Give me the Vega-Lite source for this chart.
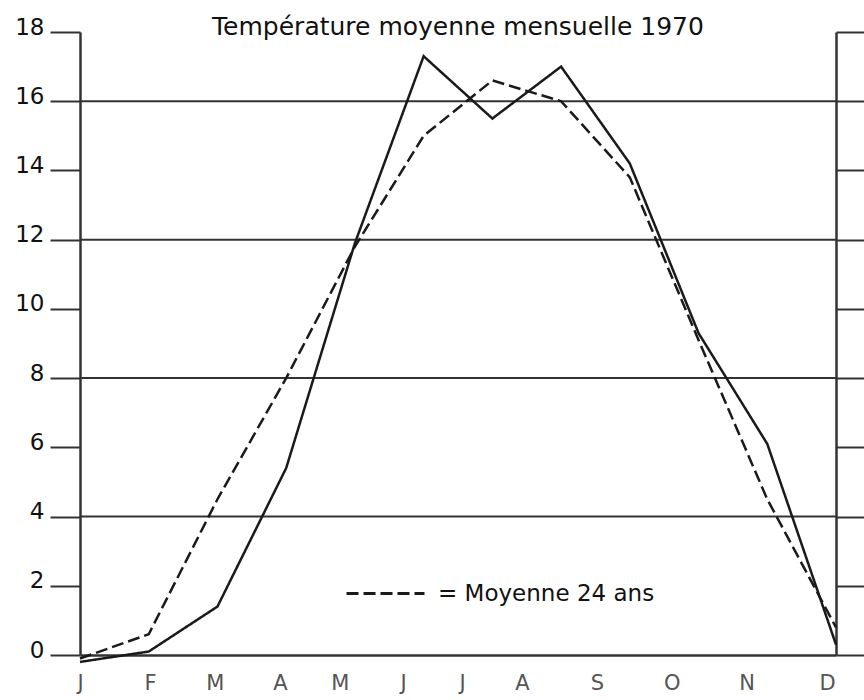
{
  "$schema": "https://vega.github.io/schema/vega-lite/v6.json",
  "width": 756,
  "height": 623,
  "autosize": {"type": "none"},
  "padding": {"left": 80, "top": 32, "right": 28, "bottom": 45},
  "background": "white",
  "config": {"view": {"stroke": null}, "font": "DejaVu Sans"},
  "title": {
    "text": "Température moyenne mensuelle 1970",
    "fontSize": 25,
    "fontWeight": "normal",
    "font": "DejaVu Sans",
    "color": "#111",
    "anchor": "middle",
    "frame": "group",
    "baseline": "alphabetic",
    "offset": -44
  },
  "layer": [
    {
      "data": {"values": [{"g": 4}, {"g": 8}, {"g": 12}, {"g": 16}]},
      "mark": {"type": "rule", "color": "#333", "strokeWidth": 2},
      "encoding": {
        "y": {
          "field": "g",
          "type": "quantitative",
          "scale": {"domain": [0, 18], "nice": false, "zero": false},
          "axis": {
            "orient": "right",
            "values": [0, 2, 4, 6, 8, 10, 12, 14, 16, 18],
            "tickSize": 28,
            "labels": false,
            "title": null,
            "grid": false,
            "domainColor": "#333",
            "domainWidth": 2.5,
            "tickColor": "#333",
            "tickWidth": 2
          }
        }
      }
    },
    {
      "data": {
        "values": [
          {"month": 1, "series": "1970", "temp": -0.2},
          {"month": 2, "series": "1970", "temp": 0.1},
          {"month": 3, "series": "1970", "temp": 1.4},
          {"month": 4, "series": "1970", "temp": 5.4},
          {"month": 5, "series": "1970", "temp": 11.9},
          {"month": 6, "series": "1970", "temp": 17.3},
          {"month": 7, "series": "1970", "temp": 15.5},
          {"month": 8, "series": "1970", "temp": 17.0},
          {"month": 9, "series": "1970", "temp": 14.2},
          {"month": 10, "series": "1970", "temp": 9.3},
          {"month": 11, "series": "1970", "temp": 6.1},
          {"month": 12, "series": "1970", "temp": 0.3},
          {"month": 1, "series": "Moyenne 24 ans", "temp": -0.1},
          {"month": 2, "series": "Moyenne 24 ans", "temp": 0.6},
          {"month": 3, "series": "Moyenne 24 ans", "temp": 4.5},
          {"month": 4, "series": "Moyenne 24 ans", "temp": 8.0},
          {"month": 5, "series": "Moyenne 24 ans", "temp": 11.8},
          {"month": 6, "series": "Moyenne 24 ans", "temp": 15.0},
          {"month": 7, "series": "Moyenne 24 ans", "temp": 16.6},
          {"month": 8, "series": "Moyenne 24 ans", "temp": 16.0},
          {"month": 9, "series": "Moyenne 24 ans", "temp": 13.8},
          {"month": 10, "series": "Moyenne 24 ans", "temp": 9.1},
          {"month": 11, "series": "Moyenne 24 ans", "temp": 4.5},
          {"month": 12, "series": "Moyenne 24 ans", "temp": 0.8}
        ]
      },
      "mark": {"type": "line", "color": "#1a1a1a", "strokeWidth": 2.5, "clip": false, "strokeJoin": "miter"},
      "encoding": {
        "x": {
          "field": "month",
          "type": "quantitative",
          "scale": {"domain": [1, 12], "nice": false, "zero": false},
          "axis": {
            "orient": "bottom",
            "values": [1, 2.02, 2.96, 3.91, 4.78, 5.7, 6.56, 7.43, 8.52, 9.61, 10.7, 11.87],
            "labelExpr": "datum.value < 1.5 ? 'J' : datum.value < 2.5 ? 'F' : datum.value < 3.4 ? 'M' : datum.value < 4.3 ? 'A' : datum.value < 5.2 ? 'M' : datum.value < 6.1 ? 'J' : datum.value < 7 ? 'J' : datum.value < 8 ? 'A' : datum.value < 9 ? 'S' : datum.value < 10.2 ? 'O' : datum.value < 11.3 ? 'N' : 'D'",
            "ticks": false,
            "grid": false,
            "title": null,
            "labelFontSize": 21,
            "labelColor": "#555",
            "labelPadding": 17,
            "labelFlush": false,
            "labelOverlap": false,
            "labelBound": false,
            "domainColor": "#333",
            "domainWidth": 2.5
          }
        },
        "y": {
          "field": "temp",
          "type": "quantitative",
          "scale": {"domain": [0, 18], "nice": false, "zero": false},
          "axis": {
            "orient": "left",
            "values": [0, 2, 4, 6, 8, 10, 12, 14, 16, 18],
            "tickSize": 30,
            "tickWidth": 2,
            "tickColor": "#333",
            "labelFontSize": 23,
            "labelColor": "#111",
            "labelPadding": 6,
            "labelBaseline": "alphabetic",
            "labelOffset": 2,
            "title": null,
            "grid": false,
            "domainColor": "#333",
            "domainWidth": 2.5
          }
        },
        "strokeDash": {
          "field": "series",
          "type": "nominal",
          "scale": {"domain": ["1970", "Moyenne 24 ans"], "range": [[1, 0], [12, 5]]},
          "legend": {
            "orient": "none",
            "legendX": 265,
            "legendY": 521,
            "title": null,
            "values": ["Moyenne 24 ans"],
            "labelExpr": "'= ' + datum.label",
            "symbolType": "stroke",
            "symbolSize": 6084,
            "symbolStrokeWidth": 3,
            "symbolStrokeColor": "#1a1a1a",
            "labelFontSize": 23,
            "labelLimit": 400,
            "labelColor": "#111",
            "labelOffset": 12,
            "padding": 0
          }
        }
      }
    }
  ],
  "resolve": {"axis": {"y": "independent"}}
}
